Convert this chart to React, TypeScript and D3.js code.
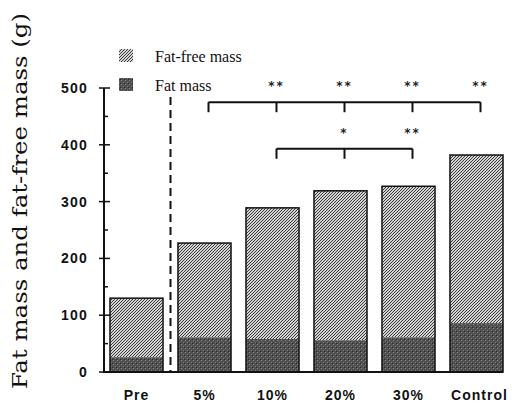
import { useRef, useEffect } from "react";
import * as d3 from "d3";

const categories = ["Pre", "5%", "10%", "20%", "30%", "Control"];
const fatMass = [26, 61, 58, 56, 61, 86];
const fatFreeMass = [104, 166, 231, 263, 266, 296];
const yTicks = [0, 100, 200, 300, 400, 500];
const minorTicks = [50, 150, 250, 350, 450];

// significance brackets: level in grams, groups covered, stars per group
const upperBracket = { level: 475, groups: ["5%", "10%", "20%", "30%", "Control"] };
const upperStars = [
  { group: "10%", label: "**" },
  { group: "20%", label: "**" },
  { group: "30%", label: "**" },
  { group: "Control", label: "**" },
];
const lowerBracket = { level: 393, groups: ["10%", "20%", "30%"] };
const lowerStars = [
  { group: "20%", label: "*" },
  { group: "30%", label: "**" },
];

export default function App() {
  const svgRef = useRef<SVGSVGElement>(null);
  const width = 512;
  const height = 403;

  useEffect(() => {
    if (!svgRef.current) return;
    const svg = d3.select(svgRef.current);
    svg.selectAll("*").remove();

    const defs = svg.append("defs");
    // fat-free texture: fine diagonal checker
    const pFree = defs
      .append("pattern")
      .attr("id", "fatfree")
      .attr("patternUnits", "userSpaceOnUse")
      .attr("width", 3)
      .attr("height", 3);
    pFree.append("rect").attr("width", 3).attr("height", 3).attr("fill", "#d2d2d2");
    pFree
      .append("path")
      .attr("d", "M0,3 L3,0 M-1,1 L1,-1 M2,4 L4,2")
      .attr("stroke", "#3c3c3c")
      .attr("stroke-width", 1);
    // fat texture: dark grainy
    const pFat = defs
      .append("pattern")
      .attr("id", "fat")
      .attr("patternUnits", "userSpaceOnUse")
      .attr("width", 4)
      .attr("height", 4);
    pFat.append("rect").attr("width", 4).attr("height", 4).attr("fill", "#505050");
    pFat.append("rect").attr("x", 1).attr("y", 0).attr("width", 1).attr("height", 1).attr("fill", "#8a8a8a");
    pFat.append("rect").attr("x", 3).attr("y", 2).attr("width", 1).attr("height", 1).attr("fill", "#7a7a7a");
    pFat.append("rect").attr("x", 0).attr("y", 3).attr("width", 1).attr("height", 1).attr("fill", "#2a2a2a");

    const x = d3
      .scaleBand<string>()
      .domain(categories)
      .range([104, 509])
      .paddingInner(0.22)
      .paddingOuter(0.088);
    const y = d3.scaleLinear().domain([0, 500]).range([372, 88]);
    const cx = (c: string) => x(c)! + x.bandwidth() / 2;

    const rows = categories.map((c, i) => ({ c, fat: fatMass[i], free: fatFreeMass[i] }));

    // bars
    const bars = svg.append("g");
    bars
      .selectAll("rect.free")
      .data(rows)
      .join("rect")
      .attr("class", "free")
      .attr("x", (d) => x(d.c)!)
      .attr("width", x.bandwidth())
      .attr("y", (d) => y(d.fat + d.free))
      .attr("height", (d) => y(d.fat) - y(d.fat + d.free))
      .attr("fill", "url(#fatfree)");
    bars
      .selectAll("rect.fat")
      .data(rows)
      .join("rect")
      .attr("class", "fat")
      .attr("x", (d) => x(d.c)!)
      .attr("width", x.bandwidth())
      .attr("y", (d) => y(d.fat))
      .attr("height", (d) => y(0) - y(d.fat))
      .attr("fill", "url(#fat)");
    bars
      .selectAll("rect.outline")
      .data(rows)
      .join("rect")
      .attr("class", "outline")
      .attr("x", (d) => x(d.c)!)
      .attr("width", x.bandwidth())
      .attr("y", (d) => y(d.fat + d.free))
      .attr("height", (d) => y(0) - y(d.fat + d.free))
      .attr("fill", "none")
      .attr("stroke", "#111")
      .attr("stroke-width", 1.5);

    // axes
    const axis = svg.append("g").attr("stroke", "#111").attr("stroke-width", 2);
    axis.append("line").attr("x1", 104).attr("x2", 104).attr("y1", y(500)).attr("y2", y(0));
    axis.append("line").attr("x1", 103).attr("x2", x("Control")! + x.bandwidth()).attr("y1", y(0)).attr("y2", y(0));
    axis
      .selectAll("line.major")
      .data(yTicks)
      .join("line")
      .attr("class", "major")
      .attr("x1", 99)
      .attr("x2", 110)
      .attr("y1", (d) => y(d))
      .attr("y2", (d) => y(d))
      .attr("stroke-width", 1.5);
    axis
      .selectAll("line.minor")
      .data(minorTicks)
      .join("line")
      .attr("class", "minor")
      .attr("x1", 104)
      .attr("x2", 108)
      .attr("y1", (d) => y(d))
      .attr("y2", (d) => y(d))
      .attr("stroke-width", 1.5);

    svg
      .append("g")
      .selectAll("text")
      .data(yTicks)
      .join("text")
      .attr("x", 88)
      .attr("y", (d) => y(d) + 5)
      .attr("text-anchor", "end")
      .attr("font-family", "Liberation Sans, Arial, sans-serif")
      .attr("font-size", 14)
      .attr("font-weight", "bold")
      .attr("letter-spacing", 1.2)
      .attr("fill", "#111")
      .text((d) => d);

    svg
      .append("g")
      .selectAll("text")
      .data(categories)
      .join("text")
      .attr("x", (d) => cx(d) + (d === "Control" ? 3 : 0))
      .attr("y", 400)
      .attr("text-anchor", "middle")
      .attr("font-family", "Liberation Sans, Arial, sans-serif")
      .attr("font-size", 14)
      .attr("font-weight", "bold")
      .attr("letter-spacing", 1)
      .attr("fill", "#111")
      .text((d) => d);

    // dashed separator
    const sepX = (x("Pre")! + x.bandwidth() + x("5%")!) / 2;
    svg
      .append("line")
      .attr("x1", sepX)
      .attr("x2", sepX)
      .attr("y1", y(484))
      .attr("y2", y(0))
      .attr("stroke", "#111")
      .attr("stroke-width", 2)
      .attr("stroke-dasharray", "8,5");

    // brackets
    const drawBracket = (b: { level: number; groups: string[] }) => {
      const g = svg.append("g").attr("stroke", "#111").attr("stroke-width", 2).attr("fill", "none");
      const xs = b.groups.map((c) => cx(c) + 4);
      const yy = y(b.level);
      g.append("line").attr("x1", xs[0]).attr("x2", xs[xs.length - 1]).attr("y1", yy).attr("y2", yy);
      g.selectAll("line.t")
        .data(xs)
        .join("line")
        .attr("class", "t")
        .attr("x1", (d) => d)
        .attr("x2", (d) => d)
        .attr("y1", yy)
        .attr("y2", yy + 10);
    };
    drawBracket(upperBracket);
    drawBracket(lowerBracket);

    const drawStars = (stars: { group: string; label: string }[], level: number) => {
      svg
        .append("g")
        .selectAll("text")
        .data(stars)
        .join("text")
        .attr("x", (d) => cx(d.group) + 4)
        .attr("y", y(level) - 12)
        .attr("text-anchor", "middle")
        .attr("font-family", "DejaVu Sans, sans-serif")
        .attr("font-size", 12)
        .attr("font-weight", "bold")
        .attr("letter-spacing", 2)
        .attr("fill", "#222")
        .text((d) => d.label);
    };
    drawStars(upperStars, upperBracket.level);
    drawStars(lowerStars, lowerBracket.level);

    // legend
    const legend = [
      { label: "Fat-free mass", fill: "url(#fatfree)", y: 49 },
      { label: "Fat mass", fill: "url(#fat)", y: 78 },
    ];
    const lg = svg.append("g");
    lg.selectAll("rect")
      .data(legend)
      .join("rect")
      .attr("x", 119)
      .attr("y", (d) => d.y)
      .attr("width", 14)
      .attr("height", 13)
      .attr("fill", (d) => d.fill);
    lg.selectAll("text")
      .data(legend)
      .join("text")
      .attr("x", 155)
      .attr("y", (d) => d.y + 13)
      .attr("font-family", "Liberation Serif, Times New Roman, serif")
      .attr("font-size", 16)
      .attr("fill", "#111")
      .text((d) => d.label);

    // y label
    svg
      .append("text")
      .attr("transform", "translate(27,201) rotate(-90)")
      .attr("text-anchor", "middle")
      .attr("font-family", "'DejaVu Serif', serif")
      .attr("font-size", 21)
      .attr("textLength", 376)
      .attr("lengthAdjust", "spacingAndGlyphs")
      .attr("fill", "#111")
      .text("Fat mass and fat-free mass (g)");
  }, []);

  return (
    <svg
      ref={svgRef}
      width={width}
      height={height}
      style={{ position: "absolute", left: 0, top: 0, background: "#fff" }}
    />
  );
}
